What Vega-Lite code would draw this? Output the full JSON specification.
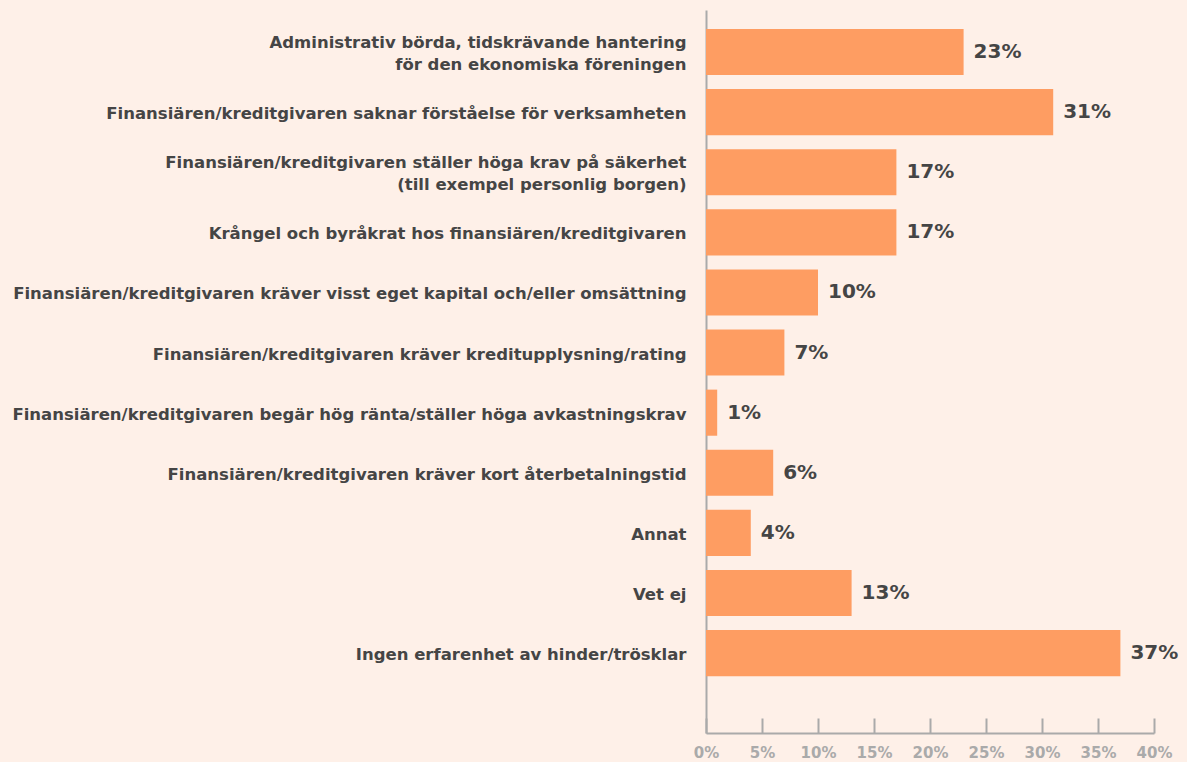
{
  "$schema": "https://vega.github.io/schema/vega-lite/v6.json",
  "autosize": "none",
  "width": 448,
  "height": 723,
  "padding": {"left": 706, "top": 10, "right": 33, "bottom": 29},
  "background": "#FEF0E8",
  "config": {"view": {"stroke": null}, "font": "DejaVu Sans"},
  "data": {"values": [
    {"label": "Administrativ börda, tidskrävande hantering|för den ekonomiska föreningen", "value": 0.23},
    {"label": "Finansiären/kreditgivaren saknar förståelse för verksamheten", "value": 0.31},
    {"label": "Finansiären/kreditgivaren ställer höga krav på säkerhet|(till exempel personlig borgen)", "value": 0.17},
    {"label": "Krångel och byråkrat hos finansiären/kreditgivaren", "value": 0.17},
    {"label": "Finansiären/kreditgivaren kräver visst eget kapital och/eller omsättning", "value": 0.10},
    {"label": "Finansiären/kreditgivaren kräver kreditupplysning/rating", "value": 0.07},
    {"label": "Finansiären/kreditgivaren begär hög ränta/ställer höga avkastningskrav", "value": 0.01},
    {"label": "Finansiären/kreditgivaren kräver kort återbetalningstid", "value": 0.06},
    {"label": "Annat", "value": 0.04},
    {"label": "Vet ej", "value": 0.13},
    {"label": "Ingen erfarenhet av hinder/trösklar", "value": 0.37}
  ]},
  "encoding": {
    "y": {
      "field": "label", "type": "nominal", "sort": null,
      "scale": {"paddingInner": 0.233, "paddingOuter": 0.63, "align": 0.25},
      "axis": {
        "title": null, "ticks": false, "labelPadding": 20,
        "labelExpr": "split(datum.label, '|')",
        "labelOffset": {"condition": {"test": "indexof(datum.label, '|') >= 0", "value": -9}, "value": 2},
        "labelFont": "DejaVu Sans", "labelFontSize": 16.5, "labelFontWeight": "bold",
        "labelColor": "#454545", "labelLineHeight": 22, "labelLimit": 0,
        "domainColor": "#AAAAAA", "domainWidth": 2
      }
    },
    "x": {
      "field": "value", "type": "quantitative",
      "scale": {"domain": [0, 0.4], "nice": false},
      "axis": {
        "title": null, "grid": false, "values": [0,0.05,0.1,0.15,0.2,0.25,0.3,0.35,0.4],
        "format": ".0%", "labelFlush": false,
        "tickSize": -15, "tickColor": "#AAAAAA", "tickWidth": 2,
        "domainColor": "#AAAAAA", "domainWidth": 2,
        "labelPadding": 27, "labelFontSize": 15, "labelFontWeight": "bold",
        "labelColor": "#AAAAAA", "labelFont": "DejaVu Sans"
      }
    }
  },
  "layer": [
    {"mark": {"type": "bar", "color": "#FE9D62"}},
    {
      "mark": {"type": "text", "align": "left", "dx": 10, "fontSize": 20, "fontWeight": "bold", "color": "#454545", "font": "DejaVu Sans"},
      "encoding": {"text": {"field": "value", "type": "quantitative", "format": ".0%"}}
    }
  ]
}
